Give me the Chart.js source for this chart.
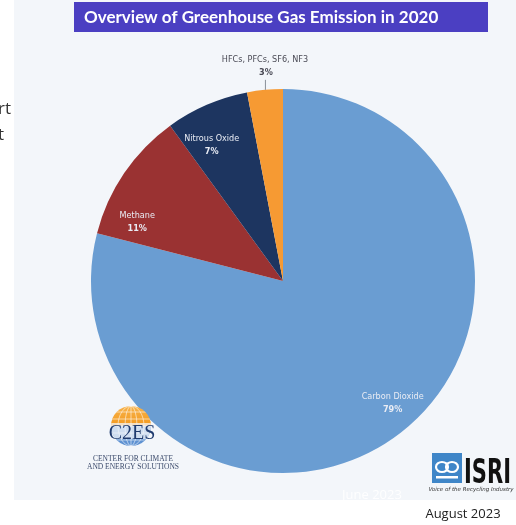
<!DOCTYPE html>
<html>
<head>
<meta charset="utf-8">
<script src="https://cdn.jsdelivr.net/npm/chart.js@4.4.1/dist/chart.umd.min.js"></script>
<style>
html,body{margin:0;padding:0;background:#fff;}
canvas{display:block;}
</style>
</head>
<body>
<canvas id="c" width="516" height="525"></canvas>
<script>
const categories = ["Carbon Dioxide", "Methane", "Nitrous Oxide", "HFCs, PFCs, SF6, NF3"];
const shares = [79, 11, 7, 3];
const sliceColors = ["#6a9dd2", "#9a3232", "#1d3560", "#f69a33"];
const chartTitle = "Overview of Greenhouse Gas Emission in 2020";
const dateLabel = "August 2023";
const fadedDate = "June 2023";

// per-label nudges (px) relative to the arc-based anchor
const labelNudge = [[12, -10], [-14, 24], [-8, 4], [0, 0]];

function fitFont(ctx, text, family, weight, width, start) {
  let s = start;
  ctx.font = weight + " " + s + "px " + family;
  while (ctx.measureText(text).width > width && s > 6) { s -= 0.25; ctx.font = weight + " " + s + "px " + family; }
  return s;
}

const decor = {
  id: "decor",
  beforeDraw(chart) {
    const ctx = chart.ctx;
    ctx.save();
    ctx.fillStyle = "#ffffff";
    ctx.fillRect(0, 0, 516, 525);
    ctx.fillStyle = "#f3f6fa";
    ctx.fillRect(14, 0, 502, 500);
    ctx.fillStyle = "#4b3fc2";
    ctx.fillRect(74, 2, 414, 30);
    ctx.fillStyle = "#ffffff";
    fitFont(ctx, chartTitle, "Lato, 'Open Sans', sans-serif", "bold", 369, 17);
    ctx.textAlign = "left";
    ctx.textBaseline = "middle";
    ctx.fillText(chartTitle, 84, 17.5);
    ctx.fillStyle = "#333333";
    ctx.font = "17px 'Open Sans', sans-serif";
    ctx.textAlign = "right";
    ctx.textBaseline = "alphabetic";
    ctx.fillText("rt", 11, 114);
    ctx.fillText("t", 4, 140);
    ctx.restore();
  },
  afterDraw(chart) {
    const ctx = chart.ctx;
    const meta = chart.getDatasetMeta(0);
    ctx.save();
    const lblFont = "'Liberation Sans Narrow', 'DejaVu Sans Condensed', 'Open Sans', sans-serif";
    meta.data.forEach((arc, i) => {
      const p = arc.getProps(["x", "y", "startAngle", "endAngle", "outerRadius"], true);
      const mid = (p.startAngle + p.endAngle) / 2;
      ctx.textAlign = "center";
      ctx.textBaseline = "middle";
      if (i < 3) {
        const rr = p.outerRadius * 0.83;
        const x = p.x + Math.cos(mid) * rr + labelNudge[i][0];
        const y = p.y + Math.sin(mid) * rr + labelNudge[i][1];
        ctx.fillStyle = "#e9ecf4";
        ctx.font = "9px " + lblFont;
        ctx.fillText(categories[i], x, y);
        ctx.font = "bold 9px " + lblFont;
        ctx.fillText(shares[i] + "%", x, y + 13);
      } else {
        const x0 = p.x + Math.cos(mid) * p.outerRadius;
        const y0 = p.y + Math.sin(mid) * p.outerRadius;
        ctx.strokeStyle = "#8a8f99";
        ctx.lineWidth = 1;
        ctx.beginPath();
        ctx.moveTo(x0 + 0.5, y0);
        ctx.lineTo(x0 + 0.5, y0 - 10);
        ctx.stroke();
        ctx.fillStyle = "#4a4a55";
        ctx.font = "9px " + lblFont;
        ctx.fillText(categories[i], x0, y0 - 30);
        ctx.font = "bold 9px " + lblFont;
        ctx.fillText(shares[i] + "%", x0 + 1, y0 - 17);
      }
    });

    // C2ES logo
    const gx = 131, gy = 426, gr = 20;
    ctx.save();
    ctx.beginPath(); ctx.arc(gx, gy, gr, Math.PI, 2 * Math.PI); ctx.closePath();
    const og = ctx.createLinearGradient(0, gy - gr, 0, gy);
    og.addColorStop(0, "#f7b24a"); og.addColorStop(1, "#f39a1f");
    ctx.fillStyle = og; ctx.fill();
    ctx.beginPath(); ctx.arc(gx, gy, gr, 0, Math.PI); ctx.closePath();
    ctx.fillStyle = "#5f92d2"; ctx.fill();
    ctx.beginPath(); ctx.arc(gx, gy, gr, 0, 2 * Math.PI); ctx.clip();
    ctx.strokeStyle = "rgba(255,255,255,0.7)"; ctx.lineWidth = 0.8;
    for (let k = -2; k <= 2; k++) {
      ctx.beginPath(); ctx.moveTo(gx - gr, gy + k * 7); ctx.lineTo(gx + gr, gy + k * 7); ctx.stroke();
    }
    [6, 13].forEach(w => { ctx.beginPath(); ctx.ellipse(gx, gy, w, gr, 0, 0, 2 * Math.PI); ctx.stroke(); });
    ctx.beginPath(); ctx.moveTo(gx, gy - gr); ctx.lineTo(gx, gy + gr); ctx.stroke();
    ctx.fillStyle = "rgba(243,246,250,0.75)";
    ctx.fillRect(gx - 21, 423, 42, 16);
    ctx.restore();
    ctx.fillStyle = "#1f3b6f";
    ctx.font = "20px 'Liberation Serif', 'DejaVu Serif', serif";
    ctx.textAlign = "center"; ctx.textBaseline = "alphabetic";
    ctx.fillText("C2ES", gx + 1, 439);
    ctx.fillStyle = "#3b4a6b";
    ctx.font = "7.5px 'Liberation Serif', 'DejaVu Serif', serif";
    ctx.fillText("CENTER FOR CLIMATE", 133, 461);
    ctx.fillText("AND ENERGY SOLUTIONS", 133, 469);

    ctx.fillStyle = "rgba(255,255,255,0.9)";
    ctx.font = "13px 'Open Sans', sans-serif";
    ctx.textAlign = "center"; ctx.textBaseline = "middle";
    ctx.fillText(fadedDate, 372, 495);

    // ISRI logo
    ctx.fillStyle = "#3f86c8";
    ctx.fillRect(432, 453, 30, 30);
    ctx.strokeStyle = "#ffffff"; ctx.lineWidth = 2.2;
    ctx.beginPath(); ctx.ellipse(442, 467, 6, 5, 0, 0, 2 * Math.PI); ctx.stroke();
    ctx.beginPath(); ctx.ellipse(452, 467, 6, 5, 0, 0, 2 * Math.PI); ctx.stroke();
    ctx.fillStyle = "#ffffff";
    ctx.fillRect(436, 476, 22, 2.5);
    ctx.fillStyle = "#111111";
    ctx.save();
    ctx.font = "bold 34px 'Liberation Sans Narrow', 'DejaVu Sans Condensed', sans-serif";
    ctx.textAlign = "left"; ctx.textBaseline = "alphabetic";
    const w = ctx.measureText("ISRI").width;
    ctx.translate(464, 483);
    ctx.scale(47 / w, 1);
    ctx.fillText("ISRI", 0, 0);
    ctx.restore();
    ctx.fillStyle = "#333";
    ctx.font = "italic 5.5px 'Liberation Sans Narrow', 'DejaVu Sans', sans-serif";
    ctx.textAlign = "center"; ctx.textBaseline = "middle";
    ctx.fillText("Voice of the Recycling Industry", 471, 490);

    ctx.fillStyle = "#222222";
    ctx.font = "13px 'Open Sans', sans-serif";
    ctx.textAlign = "center"; ctx.textBaseline = "alphabetic";
    ctx.fillText(dateLabel, 463, 518);
    ctx.restore();
  }
};

new Chart(document.getElementById("c"), {
  type: "pie",
  data: {
    labels: categories,
    datasets: [{
      data: shares,
      backgroundColor: sliceColors,
      borderWidth: 0,
      hoverOffset: 0
    }]
  },
  options: {
    responsive: false,
    animation: false,
    devicePixelRatio: 1,
    layout: { padding: { left: 91, right: 41, top: 89, bottom: 52 } },
    plugins: {
      legend: { display: false },
      tooltip: { enabled: false },
      title: { display: false }
    }
  },
  plugins: [decor]
});
</script>
</body>
</html>
